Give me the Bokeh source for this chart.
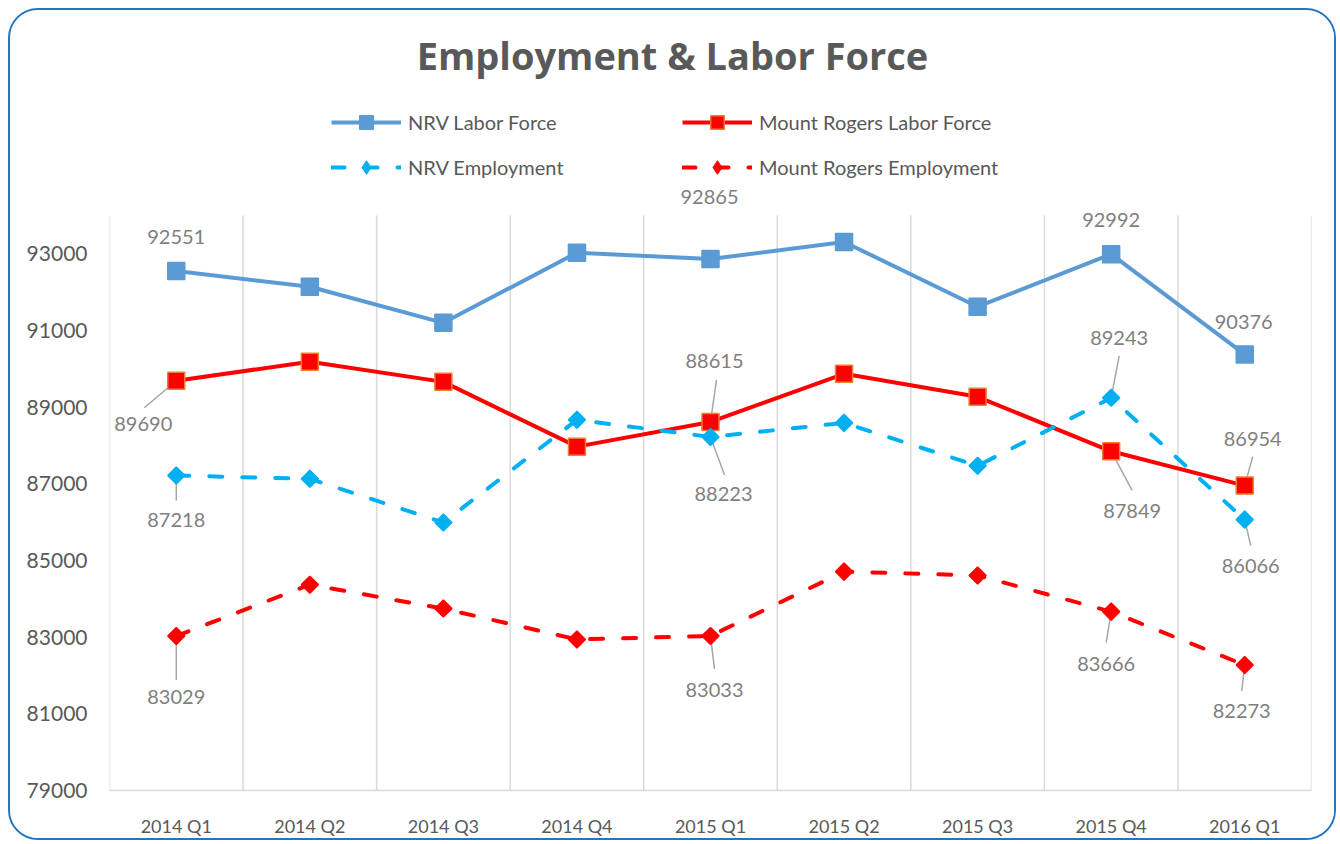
from bokeh.plotting import figure
from bokeh.models import (ColumnDataSource, Range1d, FixedTicker, Legend, LegendItem,
                          BasicTickFormatter, LabelSet, Label)
from bokeh.core.properties import value
from bokeh.embed import file_html
from bokeh.resources import INLINE

# ---------------- data ----------------
quarters = ["2014 Q1", "2014 Q2", "2014 Q3", "2014 Q4", "2015 Q1",
            "2015 Q2", "2015 Q3", "2015 Q4", "2016 Q1"]
nrv_labor_force = [92551, 92140, 91200, 93030, 92865, 93310, 91620, 92992, 90376]
mr_labor_force = [89690, 90185, 89660, 87970, 88615, 89870, 89270, 87849, 86954]
nrv_employment = [87218, 87130, 85990, 88670, 88223, 88590, 87470, 89243, 86066]
mr_employment = [83029, 84370, 83745, 82940, 83033, 84710, 84610, 83666, 82273]
y_ticks = [79000, 81000, 83000, 85000, 87000, 89000, 91000, 93000]
y_axis_min, y_axis_max = 79000, 94000
labeled_points = [0, 4, 7, 8]

# --------------- layout ---------------
W, H = 1328, 832
ML, MR, MT, MB = 99, 27, 20, 52
GRID_PX = 575                      # pixel height of the gridded plot area
N = len(quarters)
FW, FH = W - ML - MR, H - MT - MB
px_y = GRID_PX / (y_axis_max - y_axis_min)
px_x = FW / N
Y_TOP = y_axis_min + FH / px_y     # frame extends above the gridded area

p = figure(width=W, height=H, output_backend="svg", toolbar_location=None,
           x_range=Range1d(0, N), y_range=Range1d(y_axis_min, Y_TOP),
           min_border_left=ML, min_border_right=MR, min_border_top=MT, min_border_bottom=MB)
p.styles = {"border": "2px solid #2474C2", "border-radius": "30px", "overflow": "hidden",
            "margin-left": "8px", "margin-top": "8px"}
p.outline_line_color = None
p.background_fill_color = "white"
p.border_fill_color = "white"

xs = [i + 0.5 for i in range(N)]

# axes
p.xaxis.ticker = FixedTicker(ticks=xs)
p.xaxis.major_label_overrides = {x: q for x, q in zip(xs, quarters)}
p.xaxis.axis_line_color = "#D9D9D9"
p.xaxis.axis_line_width = 1.5
p.xaxis.major_tick_line_color = None
p.xaxis.minor_tick_line_color = None
p.xaxis.major_label_standoff = 18
p.xaxis.major_label_text_font = "Lato"
p.xaxis.major_label_text_font_size = "18px"
p.xaxis.major_label_text_color = "#595959"

p.yaxis.ticker = FixedTicker(ticks=y_ticks)
p.yaxis.formatter = BasicTickFormatter(use_scientific=False)
p.yaxis.axis_line_color = None
p.yaxis.major_tick_line_color = None
p.yaxis.minor_tick_line_color = None
p.yaxis.major_label_standoff = 16
p.yaxis.major_label_text_font = "Lato"
p.yaxis.major_label_text_font_size = "21px"
p.yaxis.major_label_text_color = "#595959"

p.xgrid.grid_line_color = None
p.ygrid.grid_line_color = None

# vertical category-boundary gridlines limited to the axis range
gx = list(range(N + 1))
p.segment(x0=gx, y0=[y_axis_min] * len(gx), x1=gx, y1=[y_axis_max] * len(gx),
          line_color="#D9D9D9", line_width=1.5)

# title
p.add_layout(Label(x=563, y=736, x_units="screen", y_units="screen",
                   text="Employment & Labor Force", text_align="center",
                   text_baseline="middle", text_font="Open Sans",
                   text_font_size="38px", text_font_style="bold", text_color="#595959"))

# ------------- series -------------
series = [
    ("NRV Labor Force", nrv_labor_force, "#5B9BD5", "solid", 0, 17, "#5B9BD5", "#5B9BD5", False),
    ("Mount Rogers Labor Force", mr_labor_force, "#FF0000", "solid", 0, 17, "#FF0000", "#ED7D31", False),
    ("NRV Employment", nrv_employment, "#00B0F0", "13 20", 0.785398, 12, "#00B0F0", "#00B0F0", True),
    ("Mount Rogers Employment", mr_employment, "#FF0000", "13 20", 0.785398, 12, "#FF0000", "#FF0000", True),
]

# label offsets in screen px (dx right, dy down), leader end offsets or None
label_offsets = {
    "NRV Labor Force": [(0, -34, None), (-1, -62, None), (0, -34, None), (-1, -32, None)],
    "Mount Rogers Labor Force": [(-33, 43, (-32, 27)), (4, -61, (6, -42)), (21, 60, (21, 39)), (8, -47, (8, -29))],
    "NRV Employment": [(0, 45, (0, 25)), (13, 57, (14, 38)), (8, -60, (8, -42)), (6, 46, (6, 26))],
    "Mount Rogers Employment": [(0, 61, (0, 44)), (4, 54, (4, 33)), (-5, 52, (-5, 31)), (-3, 46, (-3, 26))],
}

lx0, ly0, lx1, ly1 = [], [], [], []
tx, ty, tt, tdx, tdy = [], [], [], [], []
for name, vals, *_ in series:
    for k, i in enumerate(labeled_points):
        dx, dy, lead = label_offsets[name][k]
        tx.append(xs[i]); ty.append(vals[i]); tt.append(str(vals[i]))
        tdx.append(dx); tdy.append(-dy)
        if lead is not None:
            lx0.append(xs[i]); ly0.append(vals[i])
            lx1.append(xs[i] + lead[0] / px_x); ly1.append(vals[i] - lead[1] / px_y)

p.segment(x0=lx0, y0=ly0, x1=lx1, y1=ly1, line_color="#A6A6A6", line_width=1.5)

items = {}
for name, vals, color, dash, angle, size, fill, mline, is_diamond in series:
    src = ColumnDataSource(dict(x=xs, y=vals))
    lr = p.line("x", "y", source=src, line_color=color, line_width=4,
                line_dash=dash, line_cap="round" if dash != "solid" else "butt",
                line_join="round")
    if is_diamond:
        # diamond glyph hidden under the rotated squares; gives the legend its marker
        lg_marker = p.scatter("x", "y", source=src, marker="diamond", size=14,
                              fill_color=fill, line_color=mline, line_width=1)
    sr = p.scatter("x", "y", source=src, marker="square", size=size, angle=angle,
                   fill_color=fill, line_color=mline, line_width=1.5)
    items[name] = [lr, lg_marker if is_diamond else sr]

lab_src = ColumnDataSource(dict(x=tx, y=ty, text=tt, dx=tdx, dy=tdy))
p.add_layout(LabelSet(x="x", y="y", text="text", source=lab_src, x_offset="dx", y_offset="dy",
                      text_align="center", text_baseline="middle", text_font=value("Lato"),
                      text_font_size="20px", text_color="#7F7F7F"))

# ------------- legends -------------
def make_legend(names, vy):
    return Legend(items=[LegendItem(label=n, renderers=items[n]) for n in names],
                  location=(222, vy), orientation="horizontal",
                  glyph_width=70, glyph_height=34, label_height=24, label_standoff=7,
                  label_width=254, spacing=20, padding=0, margin=0,
                  border_line_color=None, background_fill_alpha=0,
                  label_text_font="Lato", label_text_font_size="20px",
                  label_text_color="#595959")

p.add_layout(make_legend(["NRV Labor Force", "Mount Rogers Labor Force"], 651), "center")
p.add_layout(make_legend(["NRV Employment", "Mount Rogers Employment"], 606), "center")

open("out.html", "w").write(file_html(p, INLINE))
